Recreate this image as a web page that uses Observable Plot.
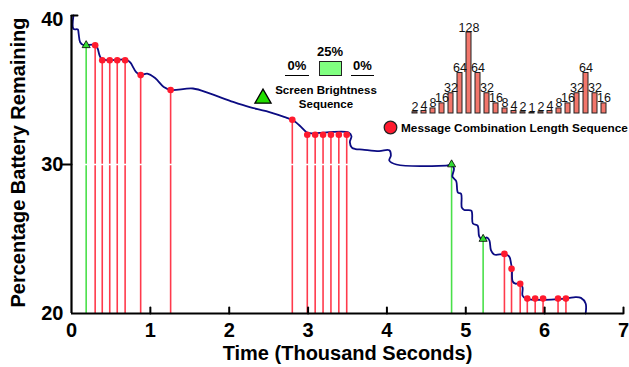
<!DOCTYPE html>
<html><head><meta charset="utf-8">
<script src="https://cdn.jsdelivr.net/npm/d3@7"></script>
<script src="https://cdn.jsdelivr.net/npm/@observablehq/plot@0.6"></script>
<style>
body{margin:0;background:#fff;}
#wrap{position:relative;width:629px;height:367px;font-family:"Liberation Sans",Arial,Helvetica,sans-serif;}
#wrap > svg, #wrap > div{position:absolute;}
.lg{position:absolute;font-weight:bold;color:#000;white-space:nowrap;}
</style></head><body><div id="wrap"></div>
<script>
// ---- data ----
const xTicks = [0, 1, 2, 3, 4, 5, 6, 7];
const yTicks = [20, 30, 40];

// battery curve (thousand seconds, %)
const batteryTime  = [0.025,0.025,0.08,0.09,0.11,0.15,0.30,0.33,0.385,0.70,0.745,0.82,0.875,0.96,1.06,1.17,1.26,1.54,1.76,2.05,2.26,2.47,2.73,2.80,2.895,2.98,3.02,3.515,3.55,3.53,3.555,3.60,3.69,3.90,4.03,4.05,4.03,4.12,4.75,4.82,4.85,4.83,4.855,4.88,4.90,4.94,4.95,4.98,5.07,5.09,5.15,5.17,5.21,5.27,5.30,5.32,5.36,5.49,5.55,5.575,5.585,5.595,5.63,5.69,5.72,5.72,5.765,6.27,6.39,6.46,6.52,6.52];
const batteryLevel = [40.0,39.1,39.06,38.8,38.2,38.02,38.03,37.8,37.08,37.03,36.85,36.2,36.0,36.1,35.8,35.2,35.0,35.1,34.75,34.2,33.85,33.58,33.13,33.0,32.6,32.17,32.1,32.15,31.9,31.5,31.14,31.04,31.0,30.9,30.95,30.6,30.27,30.0,29.93,29.97,29.73,29.2,29.03,28.86,28.12,28.03,27.1,26.95,26.9,26.04,25.9,25.17,24.95,25.1,24.9,24.23,23.96,23.98,23.83,23.33,23.0,22.15,22.0,22.03,21.75,21.2,21.0,21.0,21.1,21.05,20.67,20.0];

// message combination events
const msgTime  = [0.30,0.39,0.485,0.58,0.68,0.877,1.257,2.80,2.99,3.09,3.19,3.29,3.39,3.49,5.49,5.58,5.69,5.78,5.88,5.98,6.17,6.27];
const msgLevel = [38,37,37,37,37,36,35,33,32,32,32,32,32,32,24,23,22,21,21,21,21,21];

// screen brightness events
const brightTime  = [0.186, 4.82, 5.22];
const brightLevel = [38, 30, 25];

// inset: message combination length sequence
const comboLengths = [2,4,8,16,32,64,128,64,32,16,8,4,2,1,2,4,8,16,32,64,32,16];

// legend texts
const brightnessSteps = ["0%", "25%", "0%"];
const brightLegend = ["Screen Brightness", "Sequence"];
const msgLegend = "Message Combination Length Sequence";
const xLabel = "Time (Thousand Seconds)";
const yLabel = "Percentage Battery Remaining";

// ---- build ----
const battery = batteryTime.map((t, i) => ({t, v: batteryLevel[i]}));
const msgs = msgTime.map((t, i) => ({t, v: msgLevel[i]}));
const brs = brightTime.map((t, i) => ({t, v: brightLevel[i]}));
const bars = comboLengths.map((v, i) => ({i, v}));

const font = '"Liberation Sans", Arial, Helvetica, sans-serif';
const tickShape = {draw(ctx, l) { ctx.moveTo(0, 0); ctx.lineTo(0, -l); }};

const main = Plot.plot({
  width: 629, height: 367,
  marginLeft: 71, marginRight: 6, marginTop: 15, marginBottom: 54,
  style: {fontFamily: font, background: "transparent", overflow: "visible"},
  x: {domain: [0, 7]},
  y: {domain: [20, 40]},
  marks: [
    Plot.ruleX(brs, {x: "t", y1: 20, y2: "v", stroke: "#4ae04a", strokeWidth: 1.6}),
    Plot.ruleX(msgs, {x: "t", y1: 20, y2: "v", stroke: "#ff3a4c", strokeWidth: 1.6}),
    Plot.ruleY([30], {stroke: "white", strokeWidth: 1.5}),
    Plot.line(battery, {x: "t", y: "v", stroke: "#0b0b82", strokeWidth: 1.8, curve: "catmull-rom"}),
    Plot.dot(msgs, {x: "t", y: "v", r: 3.3, fill: "#ff1a2e"}),
    Plot.dot(brs, {x: "t", y: "v", symbol: "triangle", r: 3, fill: "#33dd33", stroke: "#000", strokeWidth: 0.8}),
    Plot.ruleX([0], {stroke: "#000", strokeWidth: 2.2}),
    Plot.ruleY([20], {stroke: "#000", strokeWidth: 2.2}),
    Plot.vector(xTicks.slice(1), {x: d => d, y: 20, length: 6, rotate: 0, anchor: "start", shape: tickShape, stroke: "#000", strokeWidth: 2}),
    Plot.vector([40], {x: 0, y: d => d, length: 6, rotate: 90, anchor: "start", shape: tickShape, stroke: "#000", strokeWidth: 2}),
    Plot.vector([30], {x: 0, y: d => d, length: 9, rotate: -90, anchor: "start", shape: tickShape, stroke: "#000", strokeWidth: 2}),
    Plot.axisX({ticks: xTicks, tickFormat: "d", tickSize: 0, tickPadding: 9, fontSize: 20, fontWeight: "bold", label: null}),
    Plot.axisY({ticks: [20, 30], tickFormat: "d", tickSize: 0, tickPadding: 8, fontSize: 20, fontWeight: "bold", label: null}),
    Plot.axisY({ticks: [40], tickFormat: "d", tickSize: 0, tickPadding: 8, dy: 4, fontSize: 20, fontWeight: "bold", label: null}),
    Plot.text([xLabel], {frameAnchor: "bottom", dy: 40, lineAnchor: "middle", textAnchor: "middle", fontSize: 20, fontWeight: "bold"}),
    Plot.text([yLabel], {frameAnchor: "left", dx: -53, dy: -2, rotate: -90, lineAnchor: "middle", textAnchor: "middle", fontSize: 20, fontWeight: "bold"}),
    // legend symbols
    Plot.dot([0], {x: null, y: null, frameAnchor: "top-left", dx: 191.5, dy: 83, symbol: "triangle", r: 6, fill: "#22dd00", stroke: "#000", strokeWidth: 1.3}),
    Plot.dot([0], {x: null, y: null, frameAnchor: "top-left", dx: 319, dy: 112, r: 6.3, fill: "#ff1a2e", stroke: "#222", strokeWidth: 1.3})
  ]
});

const inset = Plot.plot({
  width: 215, height: 103,
  marginLeft: 0, marginRight: 0, marginTop: 20, marginBottom: 2,
  style: {fontFamily: font, background: "transparent", overflow: "visible"},
  x: {type: "band", domain: d3.range(comboLengths.length), padding: 0.45, axis: null},
  y: {domain: [0, 128], axis: null},
  marks: [
    Plot.barY(bars, {x: "i", y: "v", fill: "#f2766b", stroke: "#222", strokeWidth: 1}),
    Plot.text(bars, {x: "i", y: "v", text: d => String(d.v), lineAnchor: "bottom", dy: -1, fontSize: 12.5, fill: "#111"})
  ]
});

const wrap = document.getElementById("wrap");
main.style.left = "0px"; main.style.top = "0px";
wrap.appendChild(main);
inset.style.left = "401px"; inset.style.top = "12px";
wrap.appendChild(inset);

function addDiv(text, css) {
  const d = document.createElement("div");
  d.className = "lg";
  d.textContent = text;
  Object.assign(d.style, css);
  wrap.appendChild(d);
  return d;
}
// brightness sequence legend
addDiv(brightnessSteps[0], {left: "285px", top: "58px", width: "24px", textAlign: "center", fontSize: "13px", lineHeight: "15px", borderBottom: "1.3px solid #000", paddingBottom: "2px"});
addDiv(brightnessSteps[1], {left: "310px", top: "44px", width: "40px", textAlign: "center", fontSize: "13px", lineHeight: "15px"});
const box = document.createElement("div");
Object.assign(box.style, {position: "absolute", left: "319px", top: "61px", width: "21px", height: "13px", background: "#80ff80", border: "1px solid #222"});
wrap.appendChild(box);
addDiv(brightnessSteps[2], {left: "351px", top: "58px", width: "23px", textAlign: "center", fontSize: "13px", lineHeight: "15px", borderBottom: "1.3px solid #000", paddingBottom: "2px"});
addDiv(brightLegend[0], {left: "266px", top: "83px", width: "120px", textAlign: "center", fontSize: "11.5px", lineHeight: "14px"});
addDiv(brightLegend[1], {left: "266px", top: "97px", width: "120px", textAlign: "center", fontSize: "11.5px", lineHeight: "14px"});
// message legend
addDiv(msgLegend, {left: "401px", top: "121px", fontSize: "11.8px", lineHeight: "14px"});
</script></body></html>
